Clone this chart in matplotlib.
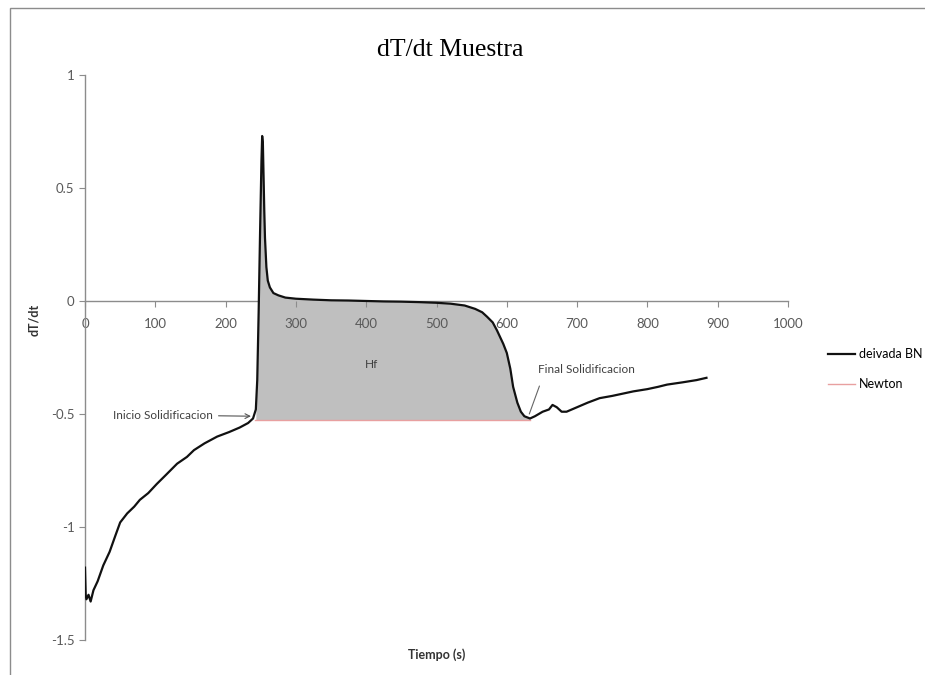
import matplotlib.pyplot as plt
from matplotlib.patches import Rectangle

# dT/dt curve of the sample (time in s)
tiempo = [0, 1, 2, 5, 8, 12, 18, 26, 35, 43, 50, 55, 60, 70, 78, 90, 102, 115, 131, 145,
          155, 170, 188, 205, 220, 232, 239, 243, 245, 247, 249, 251, 252, 253, 254, 255,
          256, 258, 260, 263, 268, 275, 285, 300, 325, 350, 375, 400, 425, 450, 475, 500,
          520, 540, 555, 565, 572, 580, 586, 595, 600, 605, 609, 615, 620, 625, 633, 640,
          651, 660, 665, 671, 678, 685, 700, 715, 732, 750, 765, 780, 800, 815, 828, 850,
          870, 884]
dTdt = [-1.18, -1.30, -1.32, -1.30, -1.33, -1.28, -1.24, -1.17, -1.11, -1.04, -0.98, -0.96,
        -0.94, -0.91, -0.88, -0.85, -0.81, -0.77, -0.72, -0.69, -0.66, -0.63, -0.60, -0.58,
        -0.56, -0.54, -0.52, -0.48, -0.35, -0.05, 0.30, 0.62, 0.73, 0.70, 0.55, 0.40, 0.28,
        0.15, 0.09, 0.06, 0.035, 0.025, 0.015, 0.010, 0.006, 0.003, 0.002, 0.0, -0.002,
        -0.003, -0.005, -0.008, -0.012, -0.020, -0.035, -0.050, -0.070, -0.095, -0.13,
        -0.19, -0.23, -0.30, -0.38, -0.45, -0.49, -0.51, -0.52, -0.51, -0.49, -0.48, -0.46,
        -0.47, -0.49, -0.49, -0.47, -0.45, -0.43, -0.42, -0.41, -0.40, -0.39, -0.38, -0.37,
        -0.36, -0.35, -0.34]

# Newton baseline during solidification
newton_t = [242, 633]
newton_v = [-0.525, -0.525]
t_ini, t_fin = 242, 633

plt.rcParams['font.family'] = ['Lato', 'DejaVu Sans']

fig = plt.figure(figsize=(9.25, 6.75), dpi=100)
ax = fig.add_axes([0.0919, 0.0519, 0.76, 0.837])

# latent heat area between curve and baseline
seg_t = [t for t in tiempo if t_ini <= t <= t_fin]
seg_v = [v for t, v in zip(tiempo, dTdt) if t_ini <= t <= t_fin]
ax.fill_between(seg_t, seg_v, newton_v[0], color='#bfbfbf', lw=0, zorder=1)

ax.plot(tiempo, dTdt, color='#111111', lw=1.6, label='deivada BN', zorder=3)
ax.plot(newton_t, newton_v, color='#e8a0a0', lw=1.0, label='Newton', zorder=2)

ax.set_xlim(0, 1000)
ax.set_ylim(-1.5, 1)
ax.set_xticks(range(0, 1001, 100))
ax.set_yticks([-1.5, -1, -0.5, 0, 0.5, 1])
ax.set_yticklabels(['-1.5', '-1', '-0.5', '0', '0.5', '1'])

for s in ['top', 'right']:
    ax.spines[s].set_visible(False)
ax.spines['bottom'].set_position(('data', 0))
ax.spines['bottom'].set_zorder(0)
for s in ['left', 'bottom']:
    ax.spines[s].set_color('#8c8c8c')
    ax.spines[s].set_linewidth(1.0)
ax.tick_params(colors='#8c8c8c', labelcolor='#595959', labelsize=9.5, length=4)
ax.tick_params(axis='x', pad=8)

ax.set_title('dT/dt Muestra', family='Liberation Serif', fontsize=18.5, pad=14, x=0.519)
ax.set_ylabel('dT/dt', fontsize=9, fontweight='bold', color='#333333')
ax.set_xlabel('Tiempo (s)', fontsize=9, fontweight='bold', color='#333333')
ax.yaxis.set_label_coords(-0.064, 0.566)
ax.xaxis.set_label_coords(0.5, -0.015)

ax.text(408, -0.28, 'Hf', fontsize=8.5, color='#404040', ha='center', va='center')
ax.annotate('Inicio Solidificacion', xy=(240, -0.51), xytext=(40, -0.505),
            fontsize=8.5, color='#404040', ha='left', va='center',
            arrowprops=dict(arrowstyle='->', color='#555555', lw=0.8))
ax.annotate('Final Solidificacion', xy=(632, -0.5), xytext=(645, -0.305),
            fontsize=8.5, color='#404040', ha='left', va='center',
            arrowprops=dict(arrowstyle='-', color='#666666', lw=0.8,
                            shrinkA=6, shrinkB=0, relpos=(0.05, 0)))

fig.legend(loc='center left', bbox_to_anchor=(0.895, 0.453), frameon=False,
           borderaxespad=0, borderpad=0, fontsize=9, handlelength=2.2,
           labelspacing=1.4, handletextpad=0.3)

# chart area border
fig.patches.append(Rectangle((0.0103, -0.05), 1.2, 1.038, transform=fig.transFigure,
                             fill=False, edgecolor='#8c8c8c', lw=1.0))

fig.savefig('out.png', dpi=100)
